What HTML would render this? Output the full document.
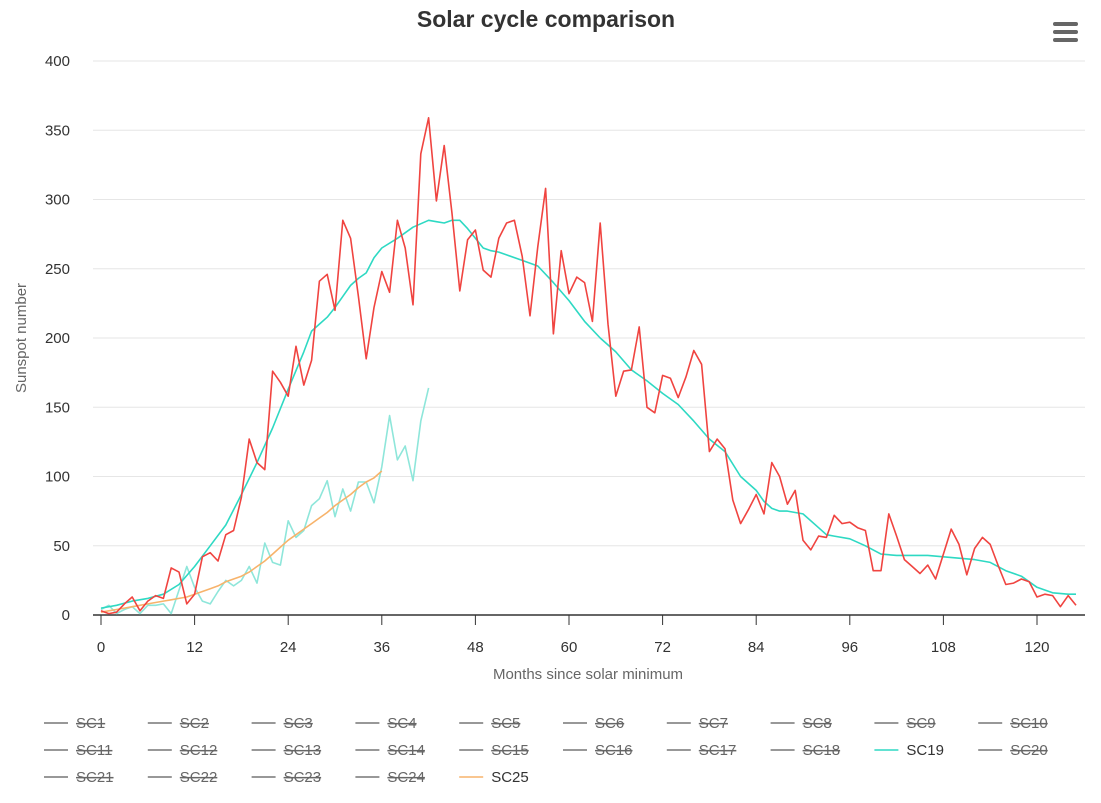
<!DOCTYPE html>
<html><head><meta charset="utf-8"><style>
body{margin:0;background:#fff;font-family:"Liberation Sans",sans-serif;}
svg text{font-family:"Liberation Sans",sans-serif;}
</style></head><body>
<svg id="chart" width="1101" height="798" viewBox="0 0 1101 798">
<text x="546" y="27" text-anchor="middle" font-size="23" font-weight="bold" fill="#333">Solar cycle comparison</text>
<g>
<rect x="1053" y="22" width="25" height="4" rx="2" fill="#666"/><rect x="1053" y="30" width="25" height="4" rx="2" fill="#666"/><rect x="1053" y="38" width="25" height="4" rx="2" fill="#666"/>
</g>
<g id="grid"></g><g id="xaxis"></g><g id="series"></g><g id="legend"></g>
<text transform="translate(26,338) rotate(-90)" text-anchor="middle" font-size="15" fill="#666">Sunspot number</text>
<text x="588" y="679" text-anchor="middle" font-size="15" fill="#666">Months since solar minimum</text>
</svg>
<script>
const yTicks=[0,50,100,150,200,250,300,350,400];
const xTicks=[0,12,24,36,48,60,72,84,96,108,120];
const sc19Monthly=[3,1,2,8,13,3,10,14,12,34,31,8,15,42,45,39,58,61,85,127,110,105,176,168,158,194,166,184,241,246,220,285,272,230,185,222,248,233,285,265,224,333,359,299,339,290,234,271,278,249,244,272,283,285,259,216,266,308,203,263,232,244,240,212,283,210,158,176,177,208,150,146,173,171,157,172,191,181,118,127,120,83,66,76,87,73,110,100,80,90,54,47,57,56,72,66,67,63,61,32,32,73,57,40,35,30,36,26,44,62,51,29,48,56,51,36,22,23,26,24,13,15,14,6,14,7];
const sc19SmoothMonths=[0,2,4,6,8,10,12,14,16,18,20,22,24,26,27,28,29,30,31,32,33,34,35,36,38,40,42,43,44,45,46,47,48,49,50,51,52,54,56,58,60,62,64,66,68,70,72,74,76,78,80,82,84,85,86,87,88,90,92,93,94,96,98,99,100,102,104,106,108,110,112,114,116,118,120,122,124,125];
const sc19SmoothValues=[5,7,10,12,15,22,35,50,65,87,110,135,163,190,205,210,215,222,230,238,243,247,258,265,272,280,285,284,283,285,285,279,272,265,263,262,260,256,252,240,227,212,200,190,177,169,160,152,140,127,118,100,90,82,77,75,75,73,63,58,57,55,50,47,44,43,43,43,42,41,40,38,32,28,20,16,15,15];
const sc25Monthly=[4,7,1,4,6,1,7,7,8,1,18,35,20,10,8,17,25,21,25,35,23,52,38,36,68,56,61,79,84,97,71,91,75,96,96,81,107,144,112,122,97,140,164];
const sc25Smooth=[2,3,4,5,6,7,8,9,10,11,12,13,15,17,19,21,24,26,28,31,35,39,44,49,54,58,62,66,70,74,79,83,87,92,96,99,104];
const NS='http://www.w3.org/2000/svg';
const X=m=>101+m*7.8, Y=v=>615-v*1.385;
function mk(tag,attrs,parent){const e=document.createElementNS(NS,tag);for(const k in attrs)e.setAttribute(k,attrs[k]);parent.appendChild(e);return e;}
const grid=document.getElementById('grid');
yTicks.forEach(v=>{
 if(v>0){const l=mk('line',{x1:93,x2:1085,y1:Y(v),y2:Y(v),stroke:'#e6e6e6','stroke-width':1},grid);
 
 }
 const t=mk('text',{x:70,y:Y(v)+5,'text-anchor':'end','font-size':15,fill:'#333'},grid);t.textContent=v;
 
 
});
const xa=document.getElementById('xaxis');
const al=mk('line',{x1:93,x2:1085,y1:615,y2:615,stroke:'#333','stroke-width':1.5},xa);


xTicks.forEach(m=>{
 const tk=mk('line',{x1:X(m),x2:X(m),y1:615,y2:625,stroke:'#333'},xa);
 
 
 const t=mk('text',{x:X(m),y:652,'text-anchor':'middle','font-size':15,fill:'#333'},xa);t.textContent=m;
 
 
});
const sg=document.getElementById('series');
function line(xs,ys,color,w,name){
 const d=ys.map((v,i)=>(i?'L':'M')+X(xs[i]).toFixed(1)+','+Y(v).toFixed(1)).join('');
 const p=mk('path',{d:d,fill:'none',stroke:color,'stroke-width':w,'stroke-linejoin':'round'},sg);
 
 
}
const idx=a=>a.map((_,i)=>i);
line(idx(sc25Monthly),sc25Monthly,'#8ee6da',1.6,'sc25-monthly-line');
line(idx(sc25Smooth),sc25Smooth,'#f7b36b',1.6,'sc25-smoothed-line');
line(sc19SmoothMonths,sc19SmoothValues,'#2ed9c3',1.6,'sc19-smoothed-line');
line(idx(sc19Monthly),sc19Monthly,'#f04440',1.6,'sc19-monthly-line');
const lg=document.getElementById('legend');
for(let i=1;i<=25;i++){
 const col=(i-1)%10,row=Math.floor((i-1)/10);
 const x=44+col*103.8,y=723+row*27;
 const vis=i===19||i===25;
 const g=mk('g',{},lg);
 
 
 mk('line',{x1:x,x2:x+24,y1:y,y2:y,stroke:vis?(i===19?'#2ed9c3':'#f7b36b'):'#777','stroke-width':1.5},g);
 const t=mk('text',{x:x+32,y:y+5,'font-size':15,fill:vis?'#333':'#666','text-decoration':vis?'none':'line-through'},g);
 t.textContent='SC'+i;
}
</script>
</body></html>
